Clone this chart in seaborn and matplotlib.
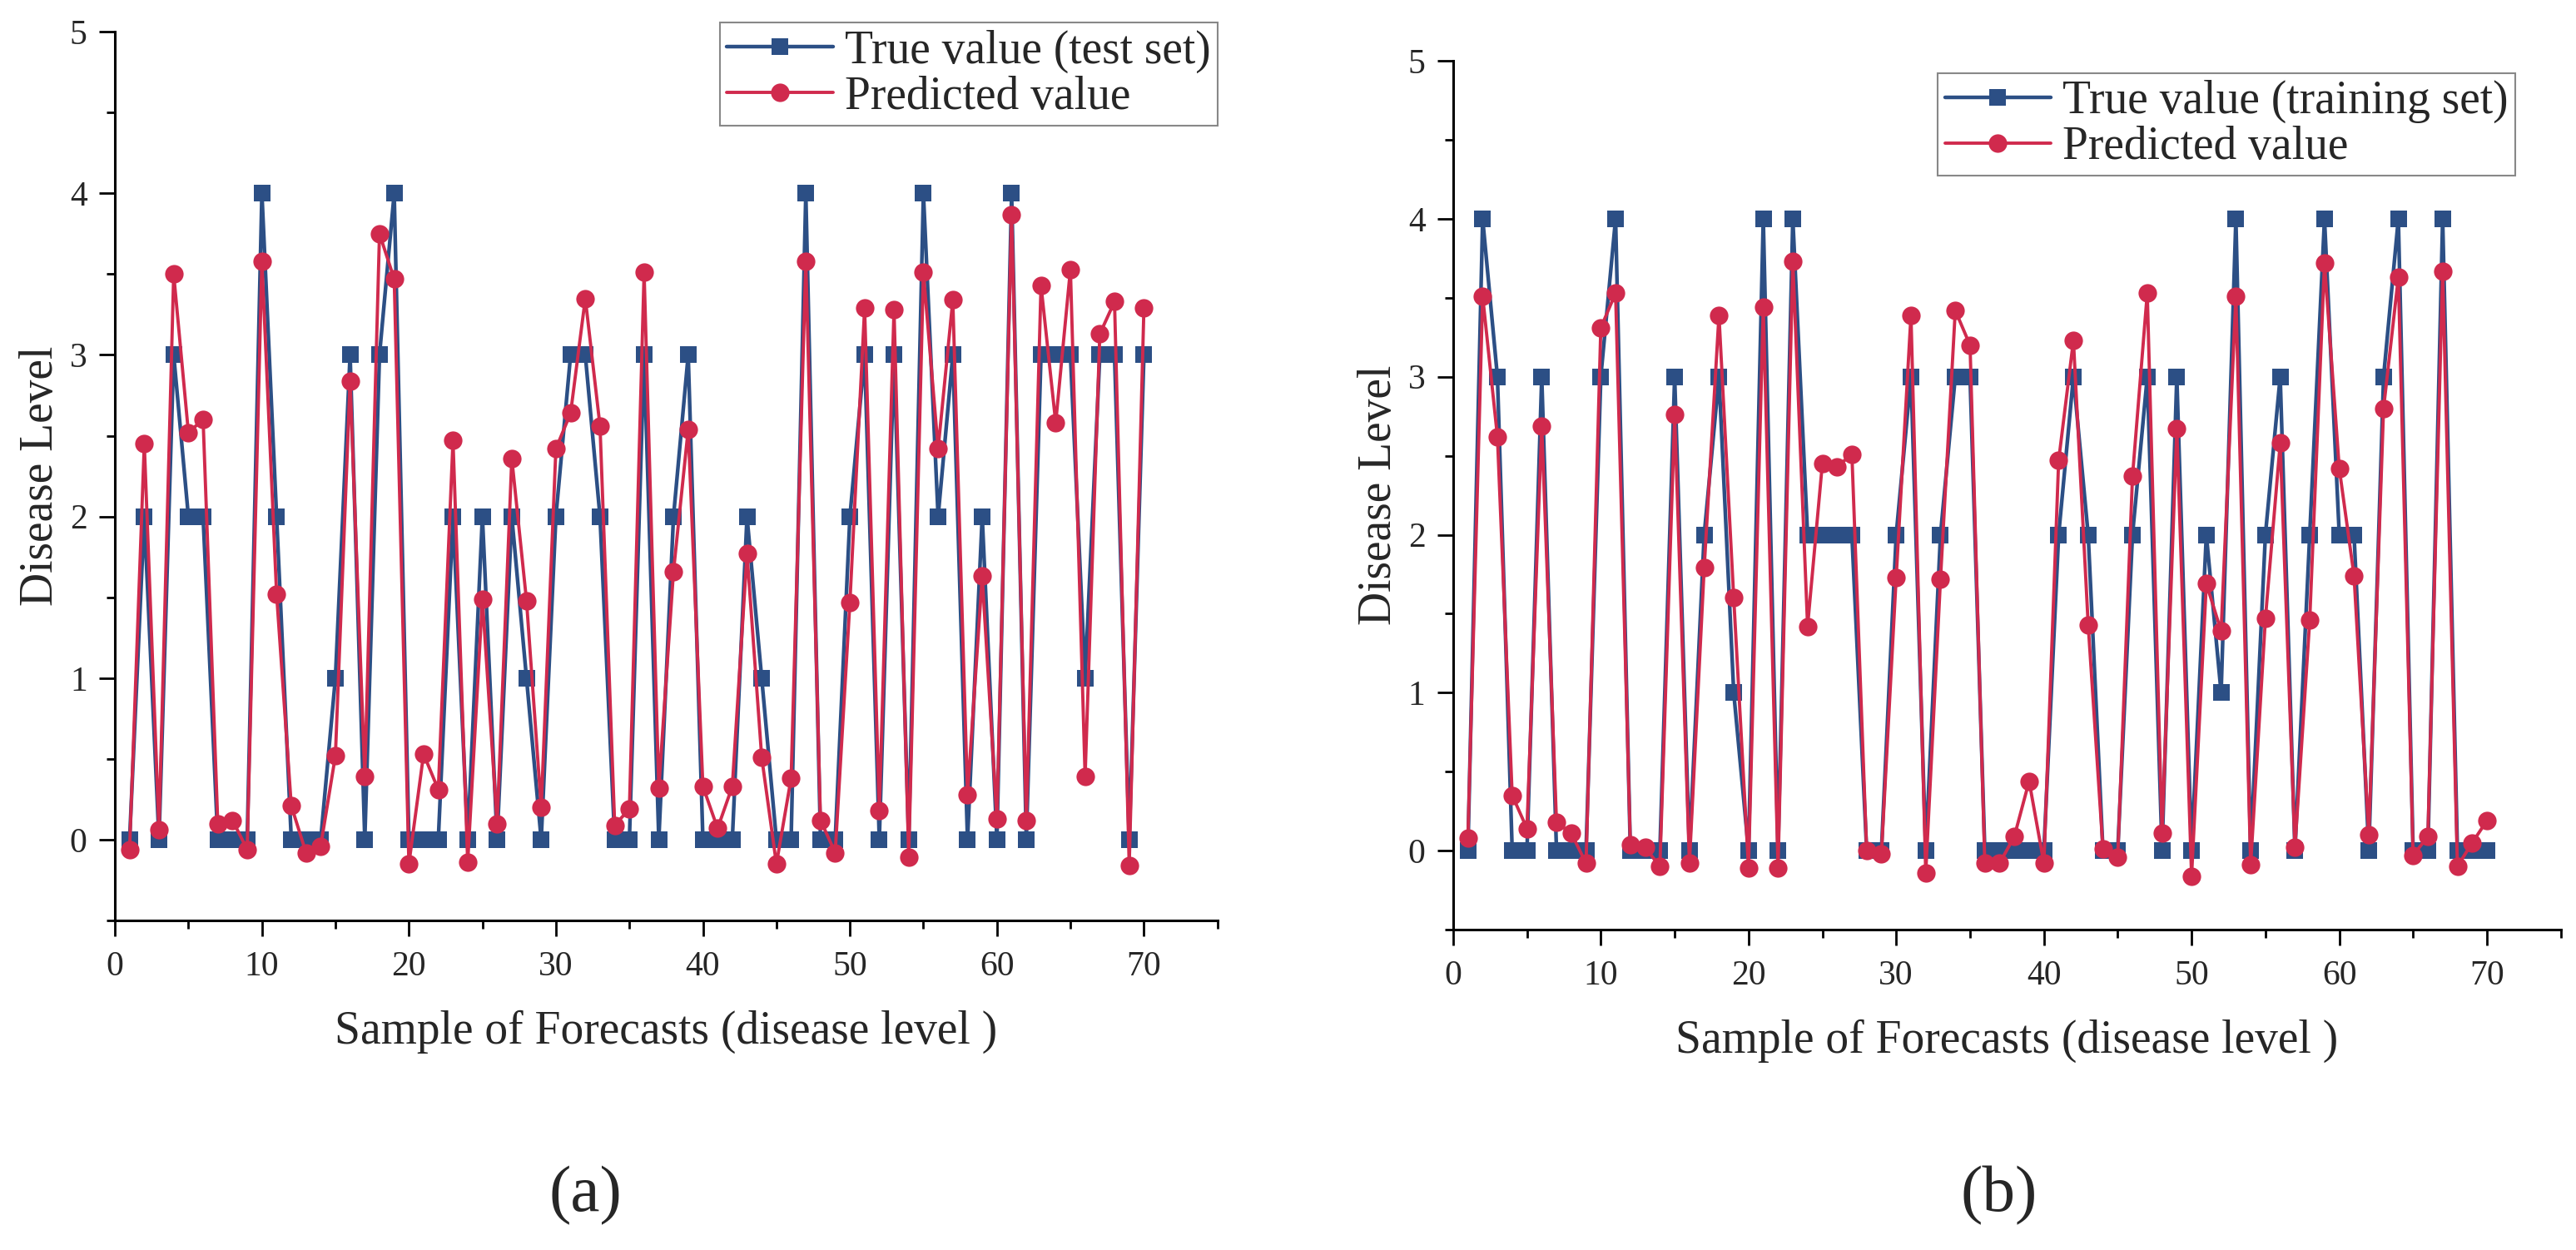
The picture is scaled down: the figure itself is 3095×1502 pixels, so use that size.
import matplotlib
matplotlib.use("Agg")
import pandas as pd
import matplotlib.pyplot as plt
from matplotlib.ticker import MultipleLocator
import seaborn as sns

samples = list(range(1, 71))

# (a) test set
true_test = [0, 2, 0, 3, 2, 2, 0, 0, 0, 4,
             2, 0, 0, 0, 1, 3, 0, 3, 4, 0,
             0, 0, 2, 0, 2, 0, 2, 1, 0, 2,
             3, 3, 2, 0, 0, 3, 0, 2, 3, 0,
             0, 0, 2, 1, 0, 0, 4, 0, 0, 2,
             3, 0, 3, 0, 4, 2, 3, 0, 2, 0,
             4, 0, 3, 3, 3, 1, 3, 3, 0, 3]
pred_test = [-0.06, 2.45, 0.06, 3.50, 2.52, 2.60, 0.10, 0.12, -0.06, 3.58,
             1.52, 0.21, -0.08, -0.04, 0.52, 2.84, 0.39, 3.75, 3.47, -0.15,
             0.53, 0.31, 2.47, -0.14, 1.49, 0.10, 2.36, 1.48, 0.20, 2.42,
             2.64, 3.35, 2.56, 0.09, 0.19, 3.51, 0.32, 1.66, 2.54, 0.33,
             0.07, 0.33, 1.77, 0.51, -0.15, 0.38, 3.58, 0.12, -0.08, 1.47,
             3.29, 0.18, 3.28, -0.11, 3.51, 2.42, 3.34, 0.28, 1.63, 0.13,
             3.87, 0.12, 3.43, 2.58, 3.53, 0.39, 3.13, 3.33, -0.16, 3.29]

# (b) training set
true_train = [0, 4, 3, 0, 0, 3, 0, 0, 0, 3,
              4, 0, 0, 0, 3, 0, 2, 3, 1, 0,
              4, 0, 4, 2, 2, 2, 2, 0, 0, 2,
              3, 0, 2, 3, 3, 0, 0, 0, 0, 0,
              2, 3, 2, 0, 0, 2, 3, 0, 3, 0,
              2, 1, 4, 0, 2, 3, 0, 2, 4, 2,
              2, 0, 3, 4, 0, 0, 4, 0, 0, 0]
pred_train = [0.08, 3.51, 2.62, 0.35, 0.14, 2.69, 0.18, 0.11, -0.08, 3.31,
              3.53, 0.04, 0.02, -0.10, 2.76, -0.08, 1.79, 3.39, 1.60, -0.11,
              3.44, -0.11, 3.73, 1.42, 2.45, 2.43, 2.51, 0.00, -0.02, 1.73,
              3.39, -0.14, 1.72, 3.42, 3.20, -0.08, -0.08, 0.09, 0.44, -0.08,
              2.47, 3.23, 1.43, 0.01, -0.04, 2.37, 3.53, 0.11, 2.67, -0.16,
              1.69, 1.39, 3.51, -0.09, 1.47, 2.58, 0.02, 1.46, 3.72, 2.42,
              1.74, 0.10, 2.80, 3.63, -0.03, 0.09, 3.67, -0.10, 0.05, 0.19]

BLUE = "#2C4F85"
RED = "#D02A4D"

sns.set_style("ticks")
plt.rcParams['font.family'] = ['Liberation Serif', 'DejaVu Serif']


def draw_panel(ax, true_vals, pred_vals, true_label, legend_anchor):
    df = pd.DataFrame({'Sample': samples, 'True': true_vals, 'Pred': pred_vals})
    sns.lineplot(data=df, x='Sample', y='True', ax=ax, color=BLUE, lw=3.2,
                 marker='s', markersize=14, markeredgewidth=0, label=true_label)
    sns.lineplot(data=df, x='Sample', y='Pred', ax=ax, color=RED, lw=2.8,
                 marker='o', markersize=16, markeredgewidth=0, label='Predicted value')
    ax.set_xlim(0, 75)
    ax.set_ylim(-0.5, 5)
    ax.xaxis.set_major_locator(MultipleLocator(10))
    ax.xaxis.set_minor_locator(MultipleLocator(5))
    ax.yaxis.set_major_locator(MultipleLocator(1))
    ax.yaxis.set_minor_locator(MultipleLocator(0.5))
    ax.tick_params(axis='both', which='major', direction='out', length=14, width=2,
                   labelsize=30, color='black')
    ax.tick_params(axis='both', which='minor', direction='out', length=7, width=2,
                   color='black')
    ax.tick_params(axis='x', which='major', pad=12)
    ax.tick_params(axis='y', which='major', pad=10)
    sns.despine(ax=ax)
    for side in ['left', 'bottom']:
        ax.spines[side].set_linewidth(2.2)
        ax.spines[side].set_color('black')
    ax.set_xlabel('Sample of Forecasts (disease level )', fontsize=40, labelpad=24)
    ax.set_ylabel('Disease Level', fontsize=40, labelpad=6)
    leg = ax.legend(loc='upper right', bbox_to_anchor=legend_anchor, fontsize=40,
                    frameon=True, fancybox=False, framealpha=1, edgecolor='#888888',
                    handlelength=2.3, handletextpad=0.25, borderpad=0.15,
                    labelspacing=0.05, borderaxespad=0)
    leg.get_frame().set_linewidth(1.5)


fig = plt.figure(figsize=(30.95, 15.02), dpi=100)
ax_a = fig.add_axes([0.0446, 0.2636, 0.428, 0.711])
ax_b = fig.add_axes([0.5641, 0.2563, 0.430, 0.695])

draw_panel(ax_a, true_test, pred_test, 'True value (test set)', (1.0, 1.010))
draw_panel(ax_b, true_train, pred_train, 'True value (training set)', (0.959, 0.986))

fig.text(703 / 3095, 1 - 1437 / 1502, '(a)', fontsize=57, ha='center', va='center')
fig.text(2402 / 3095, 1 - 1437 / 1502, '(b)', fontsize=57, ha='center', va='center')

fig.savefig('out.png', dpi=100, facecolor='white')
